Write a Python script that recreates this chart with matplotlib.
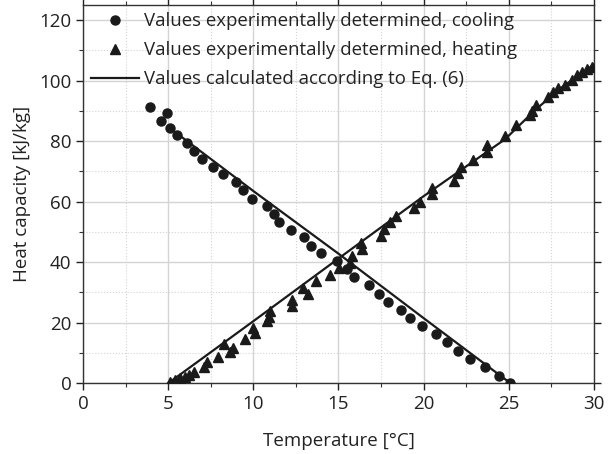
import numpy as np
import matplotlib.pyplot as plt
from matplotlib.ticker import MultipleLocator

# Messwerte Abkuehlung
cool_t = [3.9, 4.9, 4.6, 5.1, 5.5, 6.1, 6.5, 7.0, 7.6, 8.2, 9.0, 9.4, 9.9, 10.8,
          11.2, 11.5, 12.2, 13.0, 13.4, 14.0, 14.9, 15.5, 15.9, 16.8, 17.4, 17.9,
          18.7, 19.2, 19.9, 20.7, 21.4, 22.0, 22.7, 23.6, 24.4, 25.1]
cool_c = [91.4, 89.4, 86.8, 84.4, 81.9, 79.3, 76.8, 74.0, 71.5, 69.0, 66.4, 63.8,
          61.0, 58.5, 55.9, 53.3, 50.7, 48.2, 45.4, 42.9, 40.5, 37.8, 35.0, 32.3,
          29.5, 26.9, 24.2, 21.4, 18.9, 16.3, 13.6, 10.8, 8.0, 5.2, 2.3, 0.0]

# Messwerte Aufheizen
heat_t = [5.1, 5.4, 5.7, 6.0, 6.2, 6.5, 7.1, 7.3, 7.9, 8.3, 8.6, 8.8, 9.5, 10.0,
          10.1, 10.8, 10.9, 11.0, 12.25, 12.25, 12.9, 13.2, 13.7, 14.5, 15.05, 15.7,
          15.8, 16.4, 16.3, 17.5, 17.7, 18.0, 18.4, 19.45, 19.8, 20.5, 20.5, 21.8,
          22.0, 22.2, 22.9, 23.7, 23.7, 24.8, 25.4, 26.25, 26.35, 26.6, 27.3, 27.6,
          27.9, 28.3, 28.7, 29.0, 29.3, 29.6, 29.9]
heat_c = [0.4, 1.0, 1.6, 2.1, 2.7, 3.8, 5.4, 7.1, 8.7, 13.1, 10.4, 11.5, 14.5, 18.2,
          16.7, 20.4, 21.8, 23.7, 25.6, 27.6, 31.5, 29.5, 33.7, 35.9, 38.1, 39.8,
          42.0, 44.4, 46.2, 48.6, 50.9, 53.3, 55.3, 57.8, 59.9, 62.5, 64.4, 66.9,
          69.5, 71.4, 73.9, 76.3, 78.6, 81.7, 85.4, 88.5, 89.8, 91.8, 94.6, 96.3,
          97.4, 98.5, 100.2, 101.8, 102.9, 103.8, 104.6]

# berechnete Kurven nach Gl. (6)
calc_cool_t = [5.0, 10.0, 15.0, 20.0, 25.1]
calc_cool_c = [84.7, 63.5, 42.8, 21.5, 0.0]
calc_heat_t = [5.0, 10.0, 15.0, 20.0, 24.8, 26.5, 28.0, 30.0]
calc_heat_c = [0.0, 20.5, 41.2, 61.8, 80.7, 90.0, 97.3, 105.3]

plt.rcParams['font.family'] = ['Open Sans', 'DejaVu Sans']
plt.rcParams['font.size'] = 13.5

fig = plt.figure(figsize=(6.16, 4.54), dpi=100)
ax = fig.add_axes([0.135, 0.156, 0.829, 0.833])

farbe = '#1a1a1a'
ax.plot(cool_t, cool_c, 'o', color=farbe, ms=6.5, ls='none',
        label='Values experimentally determined, cooling', zorder=3)
ax.plot(heat_t, heat_c, '^', color=farbe, ms=7, ls='none',
        label='Values experimentally determined, heating', zorder=3)
ax.plot(calc_heat_t, calc_heat_c, '-', color=farbe, lw=1.6,
        label='Values calculated according to Eq. (6)', zorder=4)
ax.plot(calc_cool_t, calc_cool_c, '-', color=farbe, lw=1.6, zorder=4)

ax.set_xlim(0, 30)
ax.set_ylim(0, 125)
ax.xaxis.set_major_locator(MultipleLocator(5))
ax.xaxis.set_minor_locator(MultipleLocator(2.5))
ax.yaxis.set_major_locator(MultipleLocator(20))
ax.yaxis.set_minor_locator(MultipleLocator(10))

ax.grid(which='major', color='#d4d4d4', lw=1.0, zorder=0)
ax.grid(which='minor', color='#d4d4d4', lw=0.8, ls=':', zorder=0)
ax.set_axisbelow(True)

ax.tick_params(which='both', direction='out', top=True, right=True,
               labeltop=False, labelright=False, color='#333333')
ax.tick_params(which='major', length=5, width=1, labelsize=13.5, colors='#222222')
ax.tick_params(which='minor', length=3, width=0.8)
for s in ax.spines.values():
    s.set_color('#333333')
    s.set_linewidth(1.0)

ax.set_xlabel('Temperature [°C]', labelpad=14, color='#222222')
ax.set_ylabel('Heat capacity [kJ/kg]', labelpad=6, color='#222222')

leg = ax.legend(loc='upper left', frameon=False, fontsize=13.4,
                handlelength=2.6, handletextpad=0.25, borderaxespad=0.0,
                labelspacing=0.58, bbox_to_anchor=(0.0, 1.0))
for t in leg.get_texts():
    t.set_color('#222222')

fig.savefig('out.png', dpi=100)
